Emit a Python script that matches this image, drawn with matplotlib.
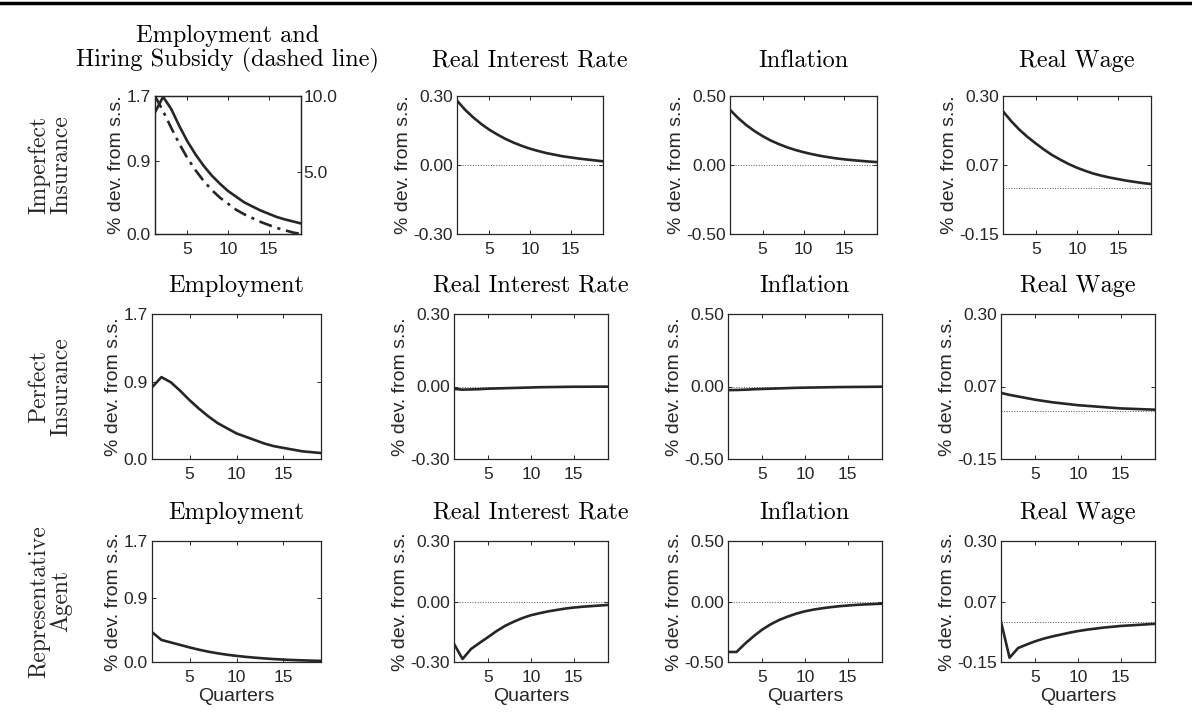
import numpy as np
import matplotlib
matplotlib.use("Agg")
import matplotlib.pyplot as plt
from matplotlib.lines import Line2D

plt.rcParams['font.family'] = ['Liberation Sans', 'DejaVu Sans']
plt.rcParams['axes.unicode_minus'] = False

quarters = list(range(1, 20))

# imperfect insurance
emp_ii = [1.50, 1.69, 1.54, 1.33, 1.14, 0.98, 0.84, 0.72, 0.62, 0.53,
          0.46, 0.39, 0.34, 0.29, 0.25, 0.21, 0.18, 0.155, 0.13]
subsidy_ii = [10.0, 9.0, 7.9, 6.85, 5.9, 5.1, 4.4, 3.8, 3.3, 2.9,
              2.5, 2.2, 1.95, 1.7, 1.5, 1.3, 1.15, 1.0, 0.9]
rate_ii = [0.28, 0.24, 0.207, 0.178, 0.153, 0.132, 0.113, 0.097, 0.083, 0.071,
           0.061, 0.052, 0.045, 0.038, 0.033, 0.028, 0.024, 0.020, 0.016]
infl_ii = [0.40, 0.34, 0.289, 0.246, 0.209, 0.177, 0.151, 0.128, 0.109, 0.093,
           0.079, 0.067, 0.057, 0.048, 0.041, 0.035, 0.030, 0.025, 0.021]
wage_ii = [0.25, 0.218, 0.19, 0.166, 0.145, 0.125, 0.107, 0.092, 0.078, 0.066,
           0.056, 0.047, 0.040, 0.034, 0.029, 0.024, 0.020, 0.016, 0.013]

# perfect insurance
emp_pi = [0.84, 0.96, 0.90, 0.80, 0.69, 0.59, 0.50, 0.42, 0.36, 0.30,
          0.26, 0.22, 0.18, 0.15, 0.13, 0.11, 0.09, 0.08, 0.07]
rate_pi = [-0.010, -0.013, -0.012, -0.011, -0.009, -0.008, -0.007, -0.006, -0.005, -0.004,
           -0.003, -0.0025, -0.002, -0.0015, -0.001, -0.001, -0.0008, -0.0006, -0.0005]
infl_pi = [-0.025, -0.024, -0.022, -0.019, -0.017, -0.015, -0.013, -0.011, -0.009, -0.008,
           -0.007, -0.006, -0.005, -0.004, -0.0035, -0.003, -0.0025, -0.002, -0.0015]
wage_pi = [0.055, 0.049, 0.044, 0.039, 0.034, 0.030, 0.026, 0.023, 0.020, 0.017,
           0.015, 0.013, 0.011, 0.009, 0.007, 0.006, 0.005, 0.004, 0.003]

# representative agent
emp_ra = [0.42, 0.31, 0.275, 0.24, 0.205, 0.173, 0.145, 0.122, 0.102, 0.086,
          0.072, 0.060, 0.050, 0.041, 0.034, 0.028, 0.023, 0.019, 0.016]
rate_ra = [-0.21, -0.285, -0.235, -0.205, -0.176, -0.146, -0.120, -0.100, -0.082, -0.068,
           -0.058, -0.049, -0.042, -0.035, -0.030, -0.026, -0.023, -0.020, -0.017]
infl_ra = [-0.417, -0.417, -0.348, -0.287, -0.232, -0.188, -0.152, -0.124, -0.100, -0.081,
           -0.067, -0.056, -0.047, -0.039, -0.033, -0.028, -0.024, -0.021, -0.018]
wage_ra = [0.0, -0.134, -0.098, -0.085, -0.073, -0.063, -0.055, -0.048, -0.041, -0.035,
           -0.030, -0.026, -0.022, -0.019, -0.016, -0.014, -0.012, -0.010, -0.008]

row_labels = ["Imperfect\nInsurance", "Perfect\nInsurance", "Representative\nAgent"]
col_titles = ["Employment", "Real Interest Rate", "Inflation", "Real Wage"]
first_title = "Employment and\nHiring Subsidy (dashed line)"
y_limits = [(0.0, 1.7), (-0.30, 0.30), (-0.50, 0.50), (-0.15, 0.30)]
y_ticks = [[0.0, 0.9, 1.7], [-0.30, 0.0, 0.30], [-0.50, 0.0, 0.50], [-0.15, 0.075, 0.30]]
y_ticklabels = [["0.0", "0.9", "1.7"], ["-0.30", "0.00", "0.30"],
                ["-0.50", "0.00", "0.50"], ["-0.15", "0.07", "0.30"]]
sub_ticks = [5.0, 10.0]
sub_ticklabels = ["5.0", "10.0"]

series = [[emp_ii, rate_ii, infl_ii, wage_ii],
          [emp_pi, rate_pi, infl_pi, wage_pi],
          [emp_ra, rate_ra, infl_ra, wage_ra]]

W, H = 1192, 727
fig = plt.figure(figsize=(W / 100, H / 100), dpi=100)

# axes boxes in pixels (left, right, top, bottom)
rows_px = [(96, 234), (314, 459), (541, 662)]
cols_px = [[(155, 301), (457, 603), (730, 877), (1003, 1151)],
           [(152, 321), (454, 608), (728, 882), (1001, 1155)],
           [(152, 321), (454, 608), (728, 882), (1001, 1155)]]

ink = '#262626'
title_font = dict(family='cmr10', size=17.5)
tick_size = 12.5
label_size = 14

for r in range(3):
    top, bot = rows_px[r]
    for c in range(4):
        left, right = cols_px[r][c]
        ax = fig.add_axes([left / W, 1 - bot / H, (right - left) / W, (bot - top) / H])
        ax.axhline(0, color='#555555', ls=':', lw=0.7, zorder=1)
        ax.plot(quarters, series[r][c], color=ink, lw=1.9, zorder=3)
        ax.set_xlim(1, 19)
        ax.set_ylim(*y_limits[c])
        ax.set_xticks([5, 10, 15])
        ax.set_yticks(y_ticks[c])
        ax.set_yticklabels(y_ticklabels[c])
        ax.tick_params(direction='in', length=3, width=0.7, color=ink, labelsize=tick_size,
                       labelcolor=ink, top=True, right=not (r == 0 and c == 0))
        ax.tick_params(axis='x', pad=6)
        ax.tick_params(axis='y', pad=3)
        for sp in ax.spines.values():
            sp.set_color(ink)
            sp.set_linewidth(0.9)
        ax.set_ylabel("% dev. from s.s.", fontsize=label_size, color=ink, labelpad=1)
        if r == 2:
            ax.set_xlabel("Quarters", fontsize=label_size, color=ink, labelpad=2)
        if r == 0 and c == 0:
            ax.set_title(first_title, fontdict=title_font, pad=21, linespacing=1.05)
            ax2 = ax.twinx()
            ax2.plot(quarters, subsidy_ii, color=ink, lw=1.9,
                     ls=(0, (5, 2.2, 1.2, 2.2)))
            ax2.set_ylim(0.9, 10.0)
            ax2.set_yticks(sub_ticks)
            ax2.set_yticklabels(sub_ticklabels)
            ax2.tick_params(direction='in', length=3, width=0.7, color=ink,
                            labelsize=tick_size, labelcolor=ink, pad=2)
            for sp in ax2.spines.values():
                sp.set_color(ink)
                sp.set_linewidth(0.9)
        else:
            ax.set_title(col_titles[c], fontdict=title_font, pad=21 if r == 0 else 16)
    fig.text(50 / W, 1 - (top + bot) / 2 / H, row_labels[r], rotation=90,
             ha='center', va='center', multialignment='center',
             family='cmr10', fontsize=17, color=ink, linespacing=1.0)

fig.add_artist(Line2D([0, 1], [1 - 3 / H, 1 - 3 / H], color='black', lw=2.5))

fig.savefig("out.png", dpi=100)
